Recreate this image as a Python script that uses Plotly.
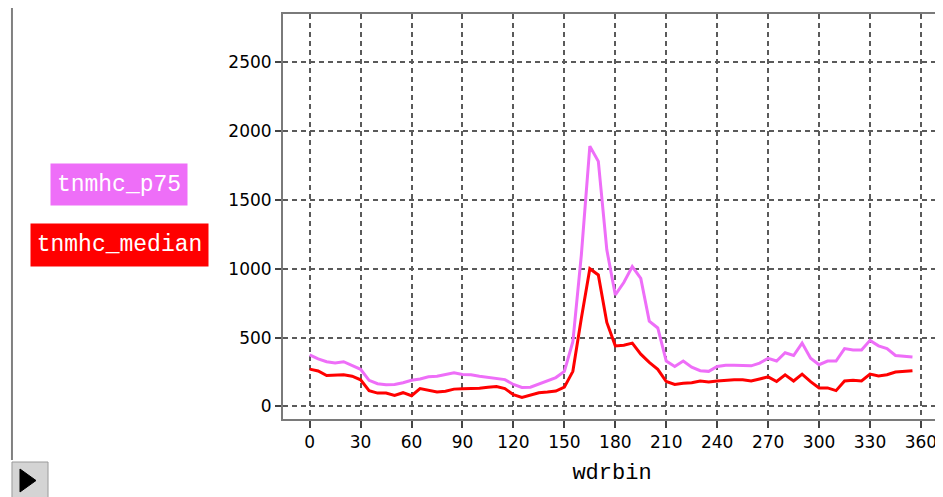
import plotly.graph_objects as go

wdrbin = list(range(0, 360, 5))

tnmhc_p75 = [375, 345, 325, 315, 325, 300, 270, 190, 165, 158,
             160, 172, 190, 200, 215, 220, 235, 245, 232, 230,
             220, 212, 205, 195, 160, 138, 140, 165, 185, 210,
             255, 470, 1100, 1890, 1780, 1137, 810, 900, 1016, 930,
             620, 570, 330, 290, 330, 285, 260, 255, 290, 300,
             300, 300, 295, 315, 350, 330, 390, 370, 460, 350,
             303, 330, 330, 420, 410, 410, 480, 440, 420, 370,
             365, 360]

tnmhc_median = [271, 258, 225, 225, 230, 220, 194, 115, 97, 97,
                80, 100, 78, 130, 120, 105, 110, 126, 128, 130,
                133, 140, 145, 130, 85, 65, 85, 100, 105, 112,
                140, 255, 640, 1000, 955, 610, 440, 445, 460, 380,
                320, 270, 181, 160, 168, 172, 185, 178, 185, 192,
                194, 194, 185, 200, 215, 181, 230, 185, 235, 180,
                135, 135, 115, 185, 190, 185, 235, 222, 230, 250,
                255, 260]

x_ticks = list(range(0, 361, 30))
y_ticks = list(range(0, 2501, 500))

C_P75 = "#EE6EF8"
C_MED = "#FF0000"
GRID = "#5a5a5a"
FRAME = "#7a7a7a"

fig = go.Figure()
fig.add_trace(go.Scatter(x=wdrbin, y=tnmhc_p75, mode="lines", name="tnmhc_p75",
                         line=dict(color=C_P75, width=3)))
fig.add_trace(go.Scatter(x=wdrbin, y=tnmhc_median, mode="lines", name="tnmhc_median",
                         line=dict(color=C_MED, width=3)))

tickfont = dict(family="DejaVu Sans", size=17, color="#000000")
monofont = "Liberation Mono"

# page body has an 8px margin, so the figure is sized to fit the window
fig.update_layout(
    width=935, height=489,
    margin=dict(l=275, r=2, t=6, b=78, autoexpand=False),
    paper_bgcolor="#FFFFFF", plot_bgcolor="#FFFFFF",
    showlegend=False,
    xaxis=dict(range=[-15.7, 371.8], tickvals=x_ticks, ticktext=[str(v) for v in x_ticks],
               automargin=False,
               showgrid=True, gridcolor=GRID, griddash="5px,4px", gridwidth=1.5,
               zeroline=False, showline=True, linecolor=FRAME, linewidth=2, mirror=True,
               ticks="outside", ticklen=7, tickwidth=1.5, tickcolor="#444444",
               tickfont=tickfont,
               title=dict(text="wdrbin", font=dict(family=monofont, size=22, color="#000000"),
                          standoff=12)),
    yaxis=dict(range=[-91, 2850], tickvals=y_ticks, ticktext=[str(v) for v in y_ticks],
               automargin=False,
               showgrid=True, gridcolor=GRID, griddash="5px,4px", gridwidth=1.5,
               zeroline=False, showline=True, linecolor=FRAME, linewidth=2, mirror=True,
               ticks="outside", ticklen=6, tickwidth=1.5, tickcolor="#444444",
               tickfont=tickfont),
)

# legend boxes
fig.add_annotation(xref="paper", yref="paper", x=-0.2497, y=0.579, xanchor="center", yanchor="middle",
                   text="tnmhc_p75", showarrow=False, bgcolor=C_P75, width=136, height=41,
                   borderpad=0, font=dict(family=monofont, size=23, color="#FFFFFF"))
fig.add_annotation(xref="paper", yref="paper", x=-0.2482, y=0.4296, xanchor="center", yanchor="middle",
                   text="tnmhc_median", showarrow=False, bgcolor=C_MED, width=177, height=42,
                   borderpad=0, font=dict(family=monofont, size=23, color="#FFFFFF"))

# left panel line and play button
fig.add_shape(type="line", xref="paper", yref="paper", x0=-0.4119, x1=-0.4119, y0=1.03, y1=-0.1012,
              line=dict(color="#808080", width=2))
fig.add_shape(type="rect", xref="paper", yref="paper", x0=-0.4119, x1=-0.3571, y0=-0.1062, y1=-0.2,
              line=dict(color="#9a9a9a", width=1), fillcolor="#d4d4d4")
fig.add_shape(type="path", xref="paper", yref="paper",
              path="M -0.3997,-0.1235 L -0.3997,-0.1802 L -0.3754,-0.1519 Z",
              line=dict(color="#000000", width=1), fillcolor="#000000")

fig.write_html("out.html")
